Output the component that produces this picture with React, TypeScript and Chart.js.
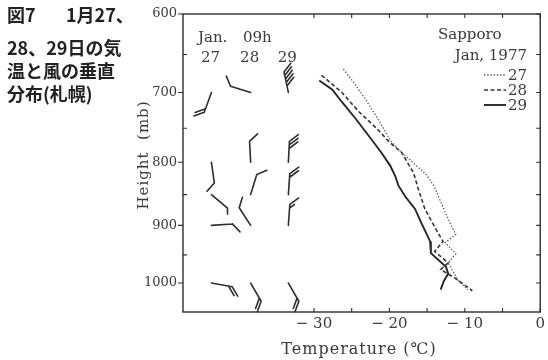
import React, { useEffect, useRef } from 'react';
import { Chart, registerables } from 'chart.js';

Chart.register(...registerables);

// ---------------- data ----------------
// Temperature profiles, Sapporo, Jan. 1977 (pressure in mb, temperature in °C)
const P_27 = [669, 687, 709, 737, 767, 781, 794, 819, 836, 870, 895, 915, 929, 948, 964, 995, 1012];
const T_27 = [-26.1, -24.7, -23.2, -21.5, -19.9, -18.8, -17.5, -15.1, -14.1, -12.9, -12.0, -11.2, -12.6, -11.2, -12.2, -10.9, -9.6];

const P_28 = [677, 700, 726, 749, 771, 785, 816, 840, 873, 907, 927, 944, 964, 976, 991, 1014];
const T_28 = [-29.0, -26.3, -24.1, -21.8, -19.9, -18.4, -16.8, -16.2, -15.3, -13.8, -12.9, -14.0, -12.2, -13.2, -11.3, -9.0];

const P_29 = [684, 696, 713, 736, 760, 785, 805, 822, 836, 853, 873, 895, 927, 947, 971, 983, 997, 1012];
const T_29 = [-29.3, -27.6, -26.3, -24.5, -22.8, -21.1, -19.9, -19.2, -18.8, -17.9, -16.6, -15.8, -14.6, -14.5, -12.5, -12.2, -12.8, -13.2];

// Winds at 09h (direction in degrees the wind blows from, speed in knots)
const WIND_DAYS = ['27', '28', '29'];
const WIND_LEVELS = [700, 800, 850, 900, 1000];
const WIND_DIR_27 = [200, 172, 130, 86, 100];
const WIND_SPD_27 = [20, 10, 5, 10, 20];
const WIND_DIR_28 = [287, 357, 17, 327, 150];
const WIND_SPD_28 = [10, 10, 10, 10, 20];
const WIND_DIR_29 = [348, 3, 4, 4, 150];
const WIND_SPD_29 = [50, 30, 20, 15, 20];

// Axis ticks
const X_TICKS = [-30, -20, -10, 0];
const X_MINOR = [-25, -15, -5];
const Y_TICKS = [600, 700, 800, 900, 1000];
const Y_MINOR = [650, 750, 850, 950];

const SERIES_LABELS = ['27', '28', '29'];

// ---------------- layout / style ----------------
const X_MIN = -47.37;
const X_MAX = 0;
const Y_MIN_H = -330;
const WIND_COLUMN_T = [-43.6, -38.4, -33.4];
const INK = '#2e2e2e';
const TEXT = '#3a3a3a';
const SERIF = '"DejaVu Serif", serif';

const STYLES = [
  { color: '#5a5a5a', width: 1.3, dash: [1.4, 1.8] },
  { color: '#353535', width: 1.6, dash: [4, 2.5] },
  { color: '#262626', width: 1.9, dash: [] as number[] },
];

// standard-atmosphere height (m) for a pressure level (mb)
const height = (p: number) => 44330 * (1 - Math.pow(p / 1013.25, 0.1903));

function drawBarb(ctx: CanvasRenderingContext2D, x: number, y: number, dir: number, spd: number) {
  const L = 21;
  const a = (dir * Math.PI) / 180;
  const ux = Math.sin(a);
  const uy = -Math.cos(a);
  const tx = x + ux * L;
  const ty = y + uy * L;
  const b = ((dir + 50) * Math.PI) / 180;
  const bx = Math.sin(b);
  const by = -Math.cos(b);
  ctx.beginPath();
  ctx.moveTo(x, y);
  ctx.lineTo(tx, ty);
  let rem = Math.round(spd / 5) * 5;
  let pos = 0;
  while (rem >= 10) {
    const sx = tx - ux * pos;
    const sy = ty - uy * pos;
    ctx.moveTo(sx, sy);
    ctx.lineTo(sx + bx * 11, sy + by * 11);
    pos += 3.6;
    rem -= 10;
  }
  if (rem >= 5) {
    const sx = tx - ux * pos;
    const sy = ty - uy * pos;
    ctx.moveTo(sx, sy);
    ctx.lineTo(sx + bx * 6, sy + by * 6);
  }
  ctx.stroke();
}

const overlay = {
  id: 'overlay',
  afterDraw(chart: any) {
    const { ctx, chartArea: a, scales } = chart;
    const xs = scales.x;
    const ys = scales.y;
    const py = (p: number) => ys.getPixelForValue(height(p));
    ctx.save();
    ctx.strokeStyle = INK;
    ctx.lineWidth = 1.4;
    ctx.lineCap = 'butt';
    ctx.strokeRect(a.left, a.top, a.right - a.left, a.bottom - a.top);

    // tick marks
    ctx.lineWidth = 1.1;
    ctx.beginPath();
    [...X_TICKS, ...X_MINOR].forEach((v) => {
      const px = xs.getPixelForValue(v);
      ctx.moveTo(px, a.bottom);
      ctx.lineTo(px, a.bottom - 4);
      ctx.moveTo(px, a.top);
      ctx.lineTo(px, a.top + 4);
    });
    Y_TICKS.forEach((p) => {
      const y = py(p);
      ctx.moveTo(a.left - 5, y);
      ctx.lineTo(a.left, y);
      ctx.moveTo(a.right, y);
      ctx.lineTo(a.right - 4, y);
    });
    Y_MINOR.forEach((p) => {
      const y = py(p);
      ctx.moveTo(a.left, y);
      ctx.lineTo(a.left + 4, y);
      ctx.moveTo(a.right, y);
      ctx.lineTo(a.right - 4, y);
    });
    ctx.stroke();

    // wind barbs
    const dirs = [WIND_DIR_27, WIND_DIR_28, WIND_DIR_29];
    const spds = [WIND_SPD_27, WIND_SPD_28, WIND_SPD_29];
    ctx.strokeStyle = INK;
    ctx.lineWidth = 1.6;
    ctx.lineCap = 'round';
    WIND_DAYS.forEach((_, d) => {
      const cx = xs.getPixelForValue(WIND_COLUMN_T[d]);
      WIND_LEVELS.forEach((p, i) => drawBarb(ctx, cx, py(p), dirs[d][i], spds[d][i]));
    });

    // texts
    ctx.fillStyle = TEXT;
    ctx.font = `15px ${SERIF}`;
    ctx.textBaseline = 'alphabetic';
    ctx.textAlign = 'left';
    ctx.fillText('Jan.', 198, 42);
    ctx.fillText('09h', 243, 42);
    ctx.textAlign = 'center';
    WIND_DAYS.forEach((day, d) => {
      ctx.fillText(day, xs.getPixelForValue(WIND_COLUMN_T[d]) - 1, 62);
    });

    // legend
    ctx.textAlign = 'left';
    ctx.fillText('Sapporo', 438, 39);
    ctx.textAlign = 'right';
    ctx.fillText('Jan, 1977', 527, 60);
    SERIES_LABELS.forEach((lab, i) => {
      const base = 80 + i * 15;
      ctx.fillText(lab, 527, base);
      const st = STYLES[i];
      ctx.save();
      ctx.strokeStyle = st.color;
      ctx.lineWidth = st.width;
      ctx.lineCap = 'butt';
      ctx.setLineDash(st.dash);
      ctx.beginPath();
      ctx.moveTo(484, base - 5);
      ctx.lineTo(506, base - 5);
      ctx.stroke();
      ctx.restore();
    });

    // axis titles
    try {
      (ctx as any).letterSpacing = '1px';
    } catch (e) {}
    ctx.font = `16px ${SERIF}`;
    ctx.textAlign = 'center';
    ctx.fillText('Temperature (℃)', 359, 354);
    ctx.font = `15px ${SERIF}`;
    ctx.translate(148, 155);
    ctx.rotate(-Math.PI / 2);
    ctx.fillText('Height  (mb)', 0, 0);
    ctx.restore();
  },
};

export default function App() {
  const ref = useRef<HTMLCanvasElement>(null);

  useEffect(() => {
    const mk = (P: number[], T: number[]) => T.map((t, i) => ({ x: t, y: height(P[i]) }));
    const series = [mk(P_27, T_27), mk(P_28, T_28), mk(P_29, T_29)];
    const chart = new Chart(ref.current as HTMLCanvasElement, {
      type: 'scatter',
      data: {
        datasets: series.map((data, i) => ({
          label: SERIES_LABELS[i],
          data,
          showLine: true,
          pointRadius: 0,
          borderColor: STYLES[i].color,
          borderWidth: STYLES[i].width,
          borderDash: STYLES[i].dash,
          tension: 0,
          fill: false,
        })),
      },
      options: {
        animation: false,
        responsive: false,
        devicePixelRatio: 1,
        layout: { padding: { top: 14, right: 5, left: 0, bottom: 0 } },
        plugins: { legend: { display: false }, tooltip: { enabled: false } },
        events: [],
        scales: {
          x: {
            type: 'linear',
            position: 'bottom',
            min: X_MIN,
            max: X_MAX,
            grid: { display: false, drawTicks: false },
            border: { display: false },
            ticks: {
              autoSkip: false,
              maxRotation: 0,
              padding: 3,
              color: TEXT,
              font: { family: SERIF, size: 15 },
              callback: (v: any) => (Number(v) === 0 ? '0' : '− ' + Math.abs(Number(v))),
            },
            afterBuildTicks: (s: any) => {
              s.ticks = X_TICKS.map((v) => ({ value: v }));
            },
            afterFit: (s: any) => {
              s.height = 48;
            },
          },
          y: {
            type: 'linear',
            min: Y_MIN_H,
            max: height(Y_TICKS[0]),
            grid: { display: false, drawTicks: false },
            border: { display: false },
            ticks: {
              autoSkip: false,
              padding: 6,
              color: TEXT,
              font: { family: SERIF, size: 13 },
              callback: (_v: any, i: number) => String(Y_TICKS[i]),
            },
            afterBuildTicks: (s: any) => {
              s.ticks = Y_TICKS.map((p) => ({ value: height(p) }));
            },
            afterFit: (s: any) => {
              s.width = 183;
            },
          },
        },
      } as any,
      plugins: [overlay],
    });
    return () => chart.destroy();
  }, []);

  const cap: React.CSSProperties = {
    position: 'absolute',
    font: 'bold 18px "Noto Sans CJK JP", sans-serif',
    lineHeight: '18px',
    color: '#222',
    whiteSpace: 'pre',
  };

  return (
    <div style={{ position: 'fixed', left: 0, top: 0, width: 548, height: 360, background: '#fff', overflow: 'hidden' }}>
      <canvas ref={ref} width={548} height={360} style={{ position: 'absolute', left: 0, top: 0, display: 'block' }} />
      <div style={{ ...cap, left: 7, top: 5 }}>図7</div>
      <div style={{ ...cap, left: 66, top: 5 }}>1月27、</div>
      <div style={{ ...cap, left: 7, top: 38 }}>28、29日の気</div>
      <div style={{ ...cap, left: 7, top: 61 }}>温と風の垂直</div>
      <div style={{ ...cap, left: 7, top: 84 }}>分布(札幌)</div>
    </div>
  );
}
